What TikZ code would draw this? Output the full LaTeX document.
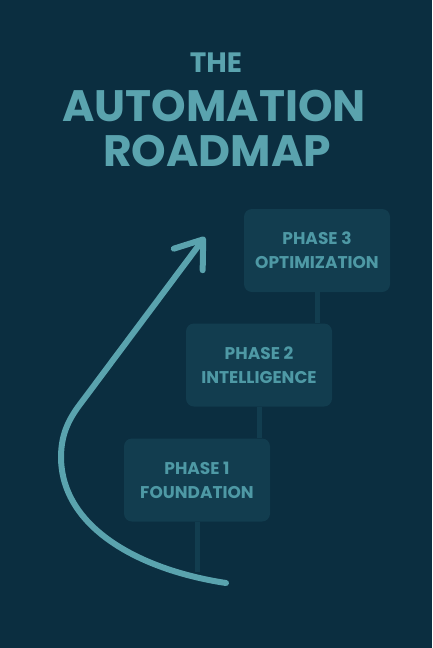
\documentclass[tikz,border=0pt]{standalone}
\usepackage{fontspec}
\setmainfont{Poppins}
\usetikzlibrary{arrows.meta}
\definecolor{bgnavy}{HTML}{0B2E40}
\definecolor{roadteal}{HTML}{5AA3AE}
\definecolor{boxfill}{HTML}{123D4F}
\definecolor{boxtext}{HTML}{4E99A5}
\begin{document}
\begin{tikzpicture}[x=1pt,y=-1pt,line join=round,line cap=round,
	title/.style={text=roadteal,font=\bfseries\fontsize{#1}{#1}\selectfont},
	phase/.style={fill=boxfill,rounded corners=8pt,minimum width=146pt,minimum height=83pt,align=center,text=boxtext,font=\bfseries\fontsize{17}{24}\selectfont},
	stem/.style={draw=boxfill,line width=5pt,line cap=butt},
	road/.style={draw=roadteal,line width=6pt}]
	\fill[bgnavy] (0,0) rectangle (432,648);
	\node[title=28] (the) at (216,63) {THE};
	\node[title=44] (auto) at (214,106) {AUTOMATION};
	\node[title=44] (road) at (217,151) {ROADMAP};
	\node[phase] (p3) at (317,250.5) {PHASE 3\\OPTIMIZATION};
	\node[phase] (p2) at (259,365) {PHASE 2\\INTELLIGENCE};
	\node[phase] (p1) at (197,480) {PHASE 1\\FOUNDATION};
	\coordinate (base) at (197,572);
	\draw[stem] (p3.south) -- (p3.south |- p2.north);
	\draw[stem] (p2.south) -- (p2.south |- p1.north);
	\draw[stem] (p1.south) -- (base);
	\coordinate (start) at (226,583);
	\coordinate (tip) at (205,237);
	\draw[road,-{Straight Barb[length=25pt,width=36pt,round]}] (start) .. controls (140,570) and (62,528) .. (61,458) .. controls (61,440) and (65,425) .. (78,407) -- (tip);
\end{tikzpicture}
\end{document}
